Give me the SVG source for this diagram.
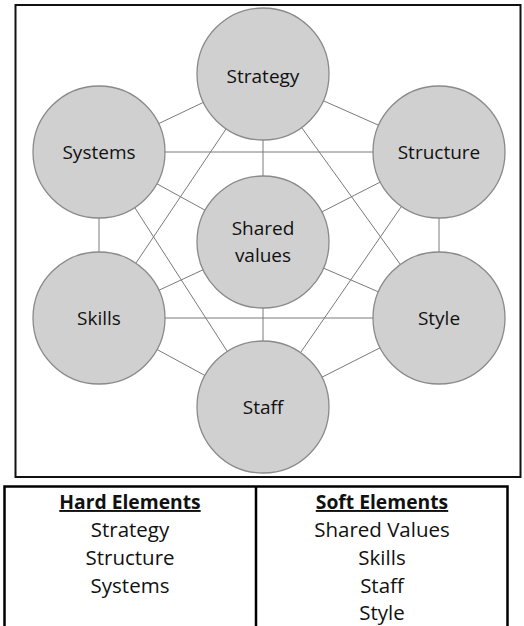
<svg xmlns="http://www.w3.org/2000/svg" width="524" height="626" viewBox="0 0 524 626">
<style>
.node{fill:#d0d0d0;stroke:#8a8a8a;stroke-width:1.3}
.lbl{font-family:"Open Sans","Liberation Sans",sans-serif;font-size:19px;fill:#111;text-anchor:middle}
.edge{stroke:#7a7a7a;stroke-width:1;fill:none}
.tx{font-family:"Open Sans","Liberation Sans",sans-serif;font-size:20.5px;fill:#111;text-anchor:middle}
.hd{font-weight:bold;text-decoration:underline;font-size:19.3px}
</style>
<rect x="0" y="0" width="524" height="626" fill="#ffffff"/>
<rect id="frame" x="15.5" y="5" width="505" height="472" fill="#ffffff" stroke="#111" stroke-width="2"/>
<g id="connectors" class="edge">
<line x1="263" y1="74" x2="99" y2="152"/>
<line x1="263" y1="74" x2="439" y2="152"/>
<line x1="263" y1="74" x2="99" y2="318"/>
<line x1="263" y1="74" x2="439" y2="318"/>
<line x1="263" y1="74" x2="263" y2="242"/>
<line x1="99" y1="152" x2="439" y2="152"/>
<line x1="99" y1="152" x2="99" y2="318"/>
<line x1="99" y1="152" x2="263" y2="407"/>
<line x1="99" y1="152" x2="263" y2="242"/>
<line x1="439" y1="152" x2="439" y2="318"/>
<line x1="439" y1="152" x2="263" y2="407"/>
<line x1="439" y1="152" x2="263" y2="242"/>
<line x1="99" y1="318" x2="439" y2="318"/>
<line x1="99" y1="318" x2="263" y2="407"/>
<line x1="99" y1="318" x2="263" y2="242"/>
<line x1="439" y1="318" x2="263" y2="407"/>
<line x1="439" y1="318" x2="263" y2="242"/>
<line x1="263" y1="242" x2="263" y2="407"/>
</g>
<g id="strategy"><circle class="node" cx="263" cy="74" r="66"/><text class="lbl" x="263" y="83">Strategy</text></g>
<g id="systems"><circle class="node" cx="99" cy="152" r="66"/><text class="lbl" x="99" y="159">Systems</text></g>
<g id="structure"><circle class="node" cx="439" cy="152" r="66"/><text class="lbl" x="439" y="159">Structure</text></g>
<g id="shared-values"><circle class="node" cx="263" cy="242" r="66"/><text class="lbl" x="263" y="235">Shared</text><text class="lbl" x="263" y="262">values</text></g>
<g id="skills"><circle class="node" cx="99" cy="318" r="66"/><text class="lbl" x="99" y="325">Skills</text></g>
<g id="style"><circle class="node" cx="439" cy="318" r="66"/><text class="lbl" x="439" y="325">Style</text></g>
<g id="staff"><circle class="node" cx="263" cy="407" r="66"/><text class="lbl" x="263" y="414">Staff</text></g>
<g id="table">
<path d="M4.5,630 V486.5 H507.5 V630 M256,486.5 V630" fill="none" stroke="#000" stroke-width="2.5"/>
<text class="tx hd" x="130" y="509">Hard Elements</text>
<text class="tx" x="130" y="537">Strategy</text>
<text class="tx" x="130" y="565">Structure</text>
<text class="tx" x="130" y="593">Systems</text>
<text class="tx hd" x="382" y="509">Soft Elements</text>
<text class="tx" x="382" y="537">Shared Values</text>
<text class="tx" x="382" y="565">Skills</text>
<text class="tx" x="382" y="593">Staff</text>
<text class="tx" x="382" y="620">Style</text>
</g>
</svg>
